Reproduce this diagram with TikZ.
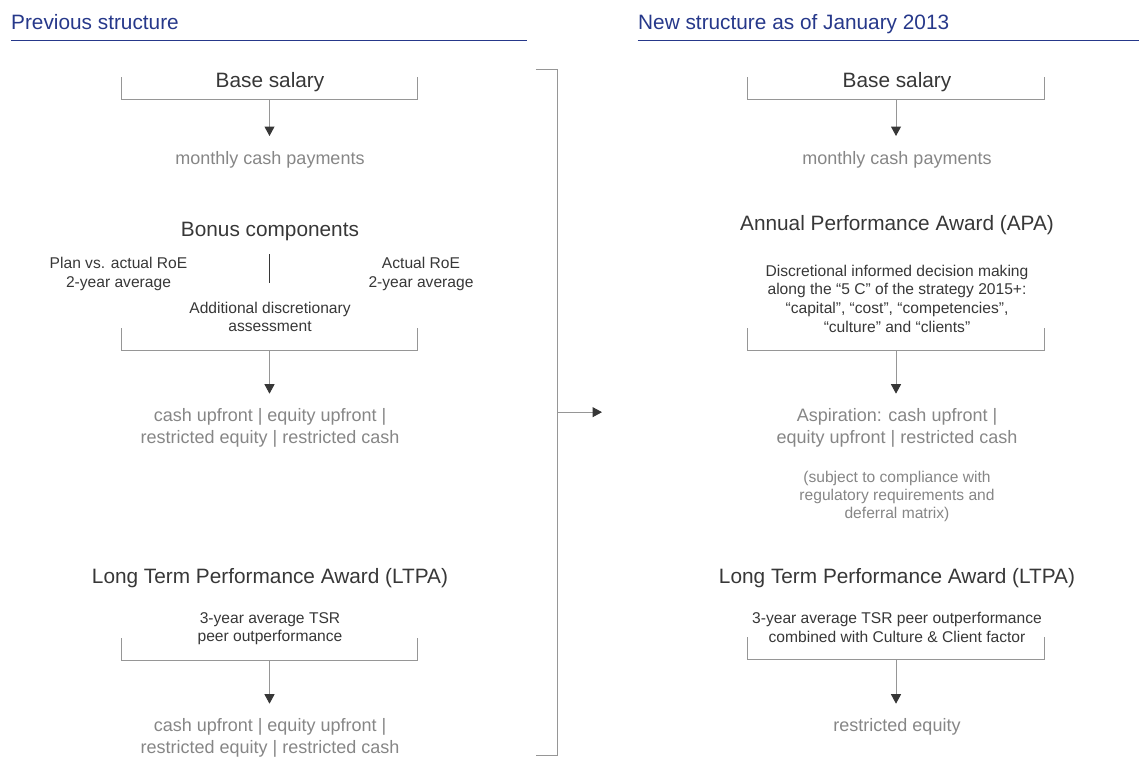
\documentclass[tikz,border=0pt]{standalone}
\usepackage{fontspec}
\setmainfont{Liberation Sans}
\usetikzlibrary{arrows.meta}
\definecolor{headblue}{RGB}{38,56,138}
\definecolor{darktext}{RGB}{55,55,55}
\definecolor{paleout}{RGB}{134,134,134}
\definecolor{rulegray}{RGB}{150,150,150}
\tikzset{
    pay/.cd,
    header/.style={anchor=base west,inner sep=0,text=headblue,font=\fontsize{20.8}{25}\selectfont},
    header rule/.style={draw=headblue,line width=1.2pt},
    title/.style={anchor=base,inner sep=0,text=darktext,font=\fontsize{20.8}{25}\selectfont},
    note/.style={anchor=north,inner sep=0,align=center,text=darktext,font=\fontsize{15.6}{18.6}\selectfont},
    result/.style={anchor=north,inner sep=0,align=center,text=paleout,font=\fontsize{18}{21.6}\selectfont},
    remark/.style={pay/result,font=\fontsize{15.6}{18.3}\selectfont},
    bracket/.style={inner sep=0,minimum width=296pt,minimum height=21.7pt},
    bracket line/.style={draw=rulegray,line width=1pt},
    divider/.style={draw=darktext,line width=1pt},
    flow arrow/.style={draw=rulegray,line width=1pt,-{Triangle[length=9.5pt,width=10pt,color=darktext]},shorten >=15pt},
}

\begin{document}
\begin{tikzpicture}[x=1pt,y=-1pt]
  \useasboundingbox (0,0) rectangle (1139,779);

  % column headers
  \node[pay/header] (prev) at (11,29.3) {Previous structure};
  \node[pay/header] (new) at (638,29.3) {New structure as of January 2013};
  \draw[pay/header rule] (11,40.5) -- (527,40.5);
  \draw[pay/header rule] (637.5,40.5) -- (1139,40.5);

  % brackets under each block
  \foreach \name/\x/\y in {lb1/269.5/88.2, lb2/269.5/339.2, lb3/269.5/649.2,
                           rb1/896/88.3, rb2/896/339.2, rb3/896/648.5} {
    \node[pay/bracket] (\name) at (\x,\y) {};
    \draw[pay/bracket line] (\name.north west) |- (\name.south) -| (\name.north east);
  }

  % previous structure
  \node[pay/title] (lbase) at (270,87.3) {Base salary};
  \node[pay/result] (lmonth) at (270,151) {monthly cash payments};
  \node[pay/title] (lbonus) at (270,236) {Bonus components};
  \node[pay/note] (lplan) at (118.5,257.1) {Plan vs. actual RoE\\2-year average};
  \node[pay/note] (lactual) at (421,257.1) {Actual RoE\\2-year average};
  \draw[pay/divider] (269,254) -- (269,283.3);
  \node[pay/note] (ladd) at (270,301.5) {Additional discretionary\\assessment};
  \node[pay/result] (lmix) at (270,408.7) {cash upfront | equity upfront |\\restricted equity | restricted cash};
  \node[pay/title] (lltpa) at (270,583.3) {Long Term Performance Award (LTPA)};
  \node[pay/note] (ltsr) at (270,612.1) {3-year average TSR\\peer outperformance};
  \node[pay/result] (lmixb) at (270,718.7) {cash upfront | equity upfront |\\restricted equity | restricted cash};

  % new structure
  \node[pay/title] (rbase) at (897,87.3) {Base salary};
  \node[pay/result] (rmonth) at (897,151) {monthly cash payments};
  \node[pay/title] (rapa) at (897,230) {Annual Performance Award (APA)};
  \node[pay/note] (rdisc) at (897,264.8) {Discretional informed decision making\\along the “5 C” of the strategy 2015+:\\“capital”, “cost”, “competencies”,\\“culture” and “clients”};
  \node[pay/result] (rasp) at (897,408.7) {Aspiration: cash upfront |\\equity upfront | restricted cash};
  \node[pay/remark] (rsubj) at (897,470.5) {(subject to compliance with\\regulatory requirements and\\deferral matrix)};
  \node[pay/title] (rltpa) at (897,583.3) {Long Term Performance Award (LTPA)};
  \node[pay/note] (rtsr) at (897,612.1) {3-year average TSR peer outperformance\\combined with Culture \& Client factor};
  \node[pay/result] (rreq) at (897,718.7) {restricted equity};

  \foreach \from/\to in {lb1/lmonth, lb2/lmix, lb3/lmixb, rb1/rmonth, rb2/rasp, rb3/rreq} {
    \draw[pay/flow arrow] (\from.south) -- (\from.south |- \to.north);
  }

  % transition bracket between the two columns
  \node[pay/bracket,minimum width=21.5pt,minimum height=685.7pt] (shift) at (546.75,412.15) {};
  \draw[pay/bracket line] (shift.north west) -| (shift.south east) -- (shift.south west);
  \coordinate (aim) at (602,412.15);
  \draw[pay/flow arrow,shorten >=0pt] (shift.east) -- (aim);
\end{tikzpicture}
\end{document}
